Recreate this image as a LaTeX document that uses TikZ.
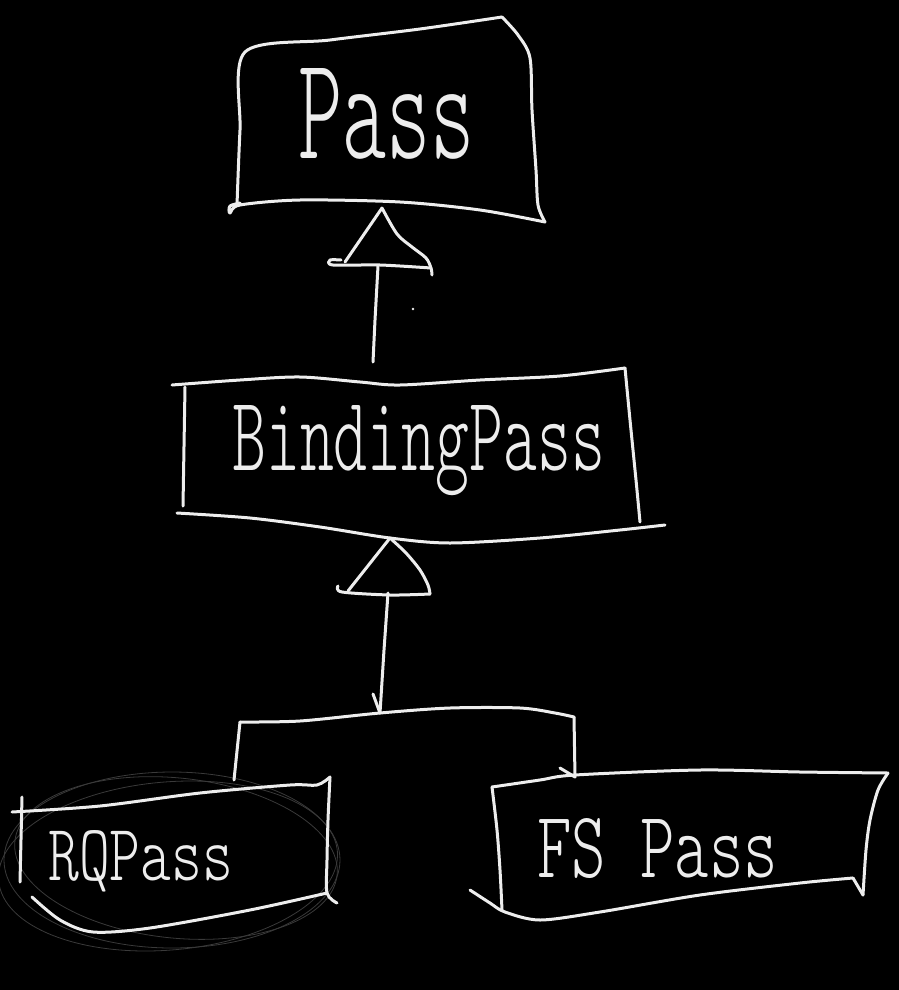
\documentclass[tikz,border=0pt]{standalone}
\usepackage{fontspec}
\usepackage{graphicx}
\newfontfamily\hand{lmmonolt10-regular.otf}
\definecolor{ink}{HTML}{EDEDED}
\definecolor{faintink}{HTML}{3A3A3A}
\tikzset{
  pen/.style={draw=ink, line width=3pt, line cap=round, line join=round},
  faint/.style={draw=faintink, line width=0.8pt},
  txt/.style={anchor=base west, inner sep=0pt, text=ink, font=\hand},
}
\begin{document}
\begin{tikzpicture}[x=1pt,y=-1pt]
\fill[black] (0,0) rectangle (899,990);
\useasboundingbox (0,0) rectangle (899,990);

% ---------- faint scribbles round RQPass ----------
\draw[faint] (172,860) ellipse (168pt and 88pt);
\draw[faint, rotate around={-6:(176,858)}] (176,858) ellipse (162pt and 80pt);
\draw[faint, rotate around={5:(168,866)}] (168,866) ellipse (170pt and 84pt);

% ---------- text nodes ----------
\node[txt] (pass) at (298,158) {\resizebox{177pt}{90pt}{Pass}};
\node[txt] (binding) at (232,470) {\resizebox{373pt}{65pt}{BindingPass}};
\node[txt] (rq) at (48,880) {\resizebox{185pt}{50pt}{RQPass}};
\node[txt] (fs) at (537,877) {\resizebox{241pt}{59pt}{FS Pass}};

% ---------- Pass box ----------
\draw[pen] plot[smooth, tension=0.5] coordinates {(237,205) (240,130) (245,52) (330,40) (420,29) (502,17)};
\draw[pen] plot[smooth, tension=0.5] coordinates {(502,17) (518,35) (530,58) (532,110) (536,170) (538,205) (545,222)};
\draw[pen] plot[smooth, tension=0.5] coordinates {(240,203) (230,206) (230,213) (240,205) (300,200) (400,202) (480,210) (545,222)};

% ---------- BindingPass box ----------
\draw[pen] plot[smooth, tension=0.5] coordinates {(172,385) (240,380) (300,377) (360,382) (400,385) (480,380) (560,376) (625,368)};
\draw[pen] plot[smooth, tension=0.5] coordinates {(625,368) (630,420) (636,480) (640,522)};
\draw[pen] (185,387) -- (183,506);
\draw[pen] plot[smooth, tension=0.5] coordinates {(177,513) (250,518) (320,527) (390,538) (450,543) (540,538) (620,530) (665,525)};

% ---------- RQPass box ----------
\draw[pen] plot[smooth, tension=0.5] coordinates {(12,812) (100,806) (200,793) (290,785) (317,785) (330,777)};
\draw[pen] plot[smooth, tension=0.5] coordinates {(330,777) (328,820) (327,860) (327,893) (337,903)};
\draw[pen] (22,797) -- (20,882);
\draw[pen] plot[smooth, tension=0.5] coordinates {(32,897) (60,920) (93,932) (150,928) (250,910) (327,893)};

% ---------- FS Pass box ----------
\draw[pen] plot[smooth, tension=0.5] coordinates {(492,787) (540,780) (575,775) (700,770) (800,772) (888,773)};
\draw[pen] plot[smooth, tension=0.5] coordinates {(888,773) (878,790) (870,820) (866,850) (863,895)};
\draw[pen] (853,878) -- (863,895);
\draw[pen] plot[smooth, tension=0.5] coordinates {(492,787) (497,830) (500,870) (502,910)};
\draw[pen] plot[smooth, tension=0.5] coordinates {(470,890) (490,903) (505,912) (540,920) (600,912) (700,895) (800,883) (853,878)};

% ---------- inheritance arrow: BindingPass -> Pass ----------
\coordinate (a1apex) at (382,208);
\coordinate (a1base) at (378,266);
\coordinate (a1tail) at (373,362);
\draw[pen] (345,262) -- (a1apex);
\draw[pen] plot[smooth, tension=0.5] coordinates {(382,208) (397,234) (412,247) (426,258) (431,268) (432,275)};
\draw[pen] plot[smooth, tension=0.5] coordinates {(341,260) (330,260) (333,265) (380,265) (431,268)};
\draw[pen] (a1base) -- (375,320) -- (a1tail);
\fill[ink] (413,309) circle (1.3pt);

% ---------- inheritance arrow: subclasses -> BindingPass ----------
\coordinate (a2apex) at (390,538);
\coordinate (a2base) at (388,593);
\coordinate (bus) at (380,713);
\draw[pen] (348,591) -- (a2apex);
\draw[pen] plot[smooth, tension=0.5] coordinates {(390,538) (406,553) (420,570) (428,585) (430,594)};
\draw[pen] plot[smooth, tension=0.5] coordinates {(338,586) (342,592) (390,595) (430,594)};
\draw[pen] (a2base) -- (384,650) -- (bus);
\draw[pen] (373,694) -- (bus);

% ---------- bus to RQPass and FS Pass ----------
\coordinate (busL) at (240,722);
\coordinate (busR) at (574,717);
\coordinate (rqtop) at (234,780);
\coordinate (fstop) at (575,777);
\draw[pen] plot[smooth, tension=0.5] coordinates {(240,722) (300,721) (380,713) (450,708) (520,708) (555,713) (574,717)};
\draw[pen] (busL) -- (rqtop);
\draw[pen] (busR) -- (fstop);
\draw[pen] (560,768) -- (fstop);
\end{tikzpicture}
\end{document}
